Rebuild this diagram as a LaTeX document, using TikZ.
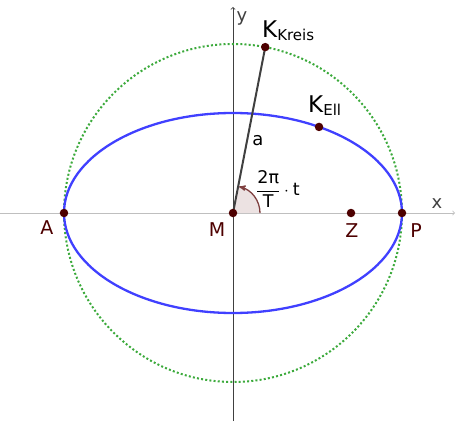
\documentclass[tikz,border=0pt]{standalone}
\usepackage{fontspec}
\setmainfont{DejaVu Sans}
\usetikzlibrary{arrows}
\definecolor{pointred}{RGB}{77,0,0}
\definecolor{ellblue}{RGB}{64,64,255}
\definecolor{circgreen}{RGB}{60,170,60}
\definecolor{anglered}{RGB}{127,64,64}
\tikzset{
  pkt/.style = {circle, fill=pointred, inner sep=0pt, minimum size=8.5pt},
  lbl/.style = {text=pointred, inner sep=0pt, font=\fontsize{19}{19}\selectfont},
  klbl/.style = {inner sep=0pt, font=\fontsize{23}{23}\selectfont},
  axlbl/.style = {text=black!75, inner sep=0pt, font=\fontsize{18}{18}\selectfont},
}

\begin{document}
\begin{tikzpicture}[x=1pt,y=1pt]
\useasboundingbox (-233,-210) rectangle (227,213);

% Punkte
\coordinate (M) at (0,0);
\coordinate (A) at (-169,0);
\coordinate (P) at (169,0);
\coordinate (Z) at (118,0);
\coordinate (KK) at (79:169);
\coordinate (KE) at ({169*cos(59.4)},{100*sin(59.4)});

% Achsen
\draw[black!25, line width=0.8pt, -to] (-233,0) -- (222,0) coordinate (xend);
\draw[black!75, line width=0.8pt, -to] (0,-208) -- (0,206) coordinate (yend);

% Kreis und Ellipse
\draw[circgreen, line width=2pt, dash pattern=on 2pt off 2.2pt] (M) circle (169);
\draw[ellblue, line width=2.3pt] (M) ellipse (169 and 100);

% Winkel
\fill[anglered!15] (M) -- (27,0) arc (0:79:27) -- cycle;
\draw[anglered, line width=1.3pt, -stealth'] (27,0) arc (0:77:27);

\draw[black!75, line width=2pt] (M) -- (KK);

\foreach \p in {M,A,P,Z,KK,KE}
  \node[pkt] at (\p) {};

% Beschriftungen
\node[lbl] (lA) at (-186,-15) {A};
\node[lbl] (lM) at (-16,-17) {M};
\node[lbl] (lZ) at (119,-18) {Z};
\node[lbl] (lP) at (183,-18) {P};
\node[axlbl] (lx) at (204,9) {x};
\node[axlbl] (ly) at (9,195) {y};
\node[klbl, anchor=west] (lKK) at (29,182) {K\raisebox{-3pt}{\fontsize{15}{15}\selectfont Kreis}};
\node[klbl, anchor=west] (lKE) at (75,107) {K\raisebox{-3pt}{\fontsize{15}{15}\selectfont Ell}};
\node[axlbl, text=black] (la) at (25,72) {a};
\node[inner sep=0pt, font=\fontsize{17.5}{17.5}\selectfont, anchor=west] (lw) at (23,24)
  {$\displaystyle\frac{\mbox{2π}}{\mbox{T}}\cdot\mbox{t}$};
\end{tikzpicture}
\end{document}
